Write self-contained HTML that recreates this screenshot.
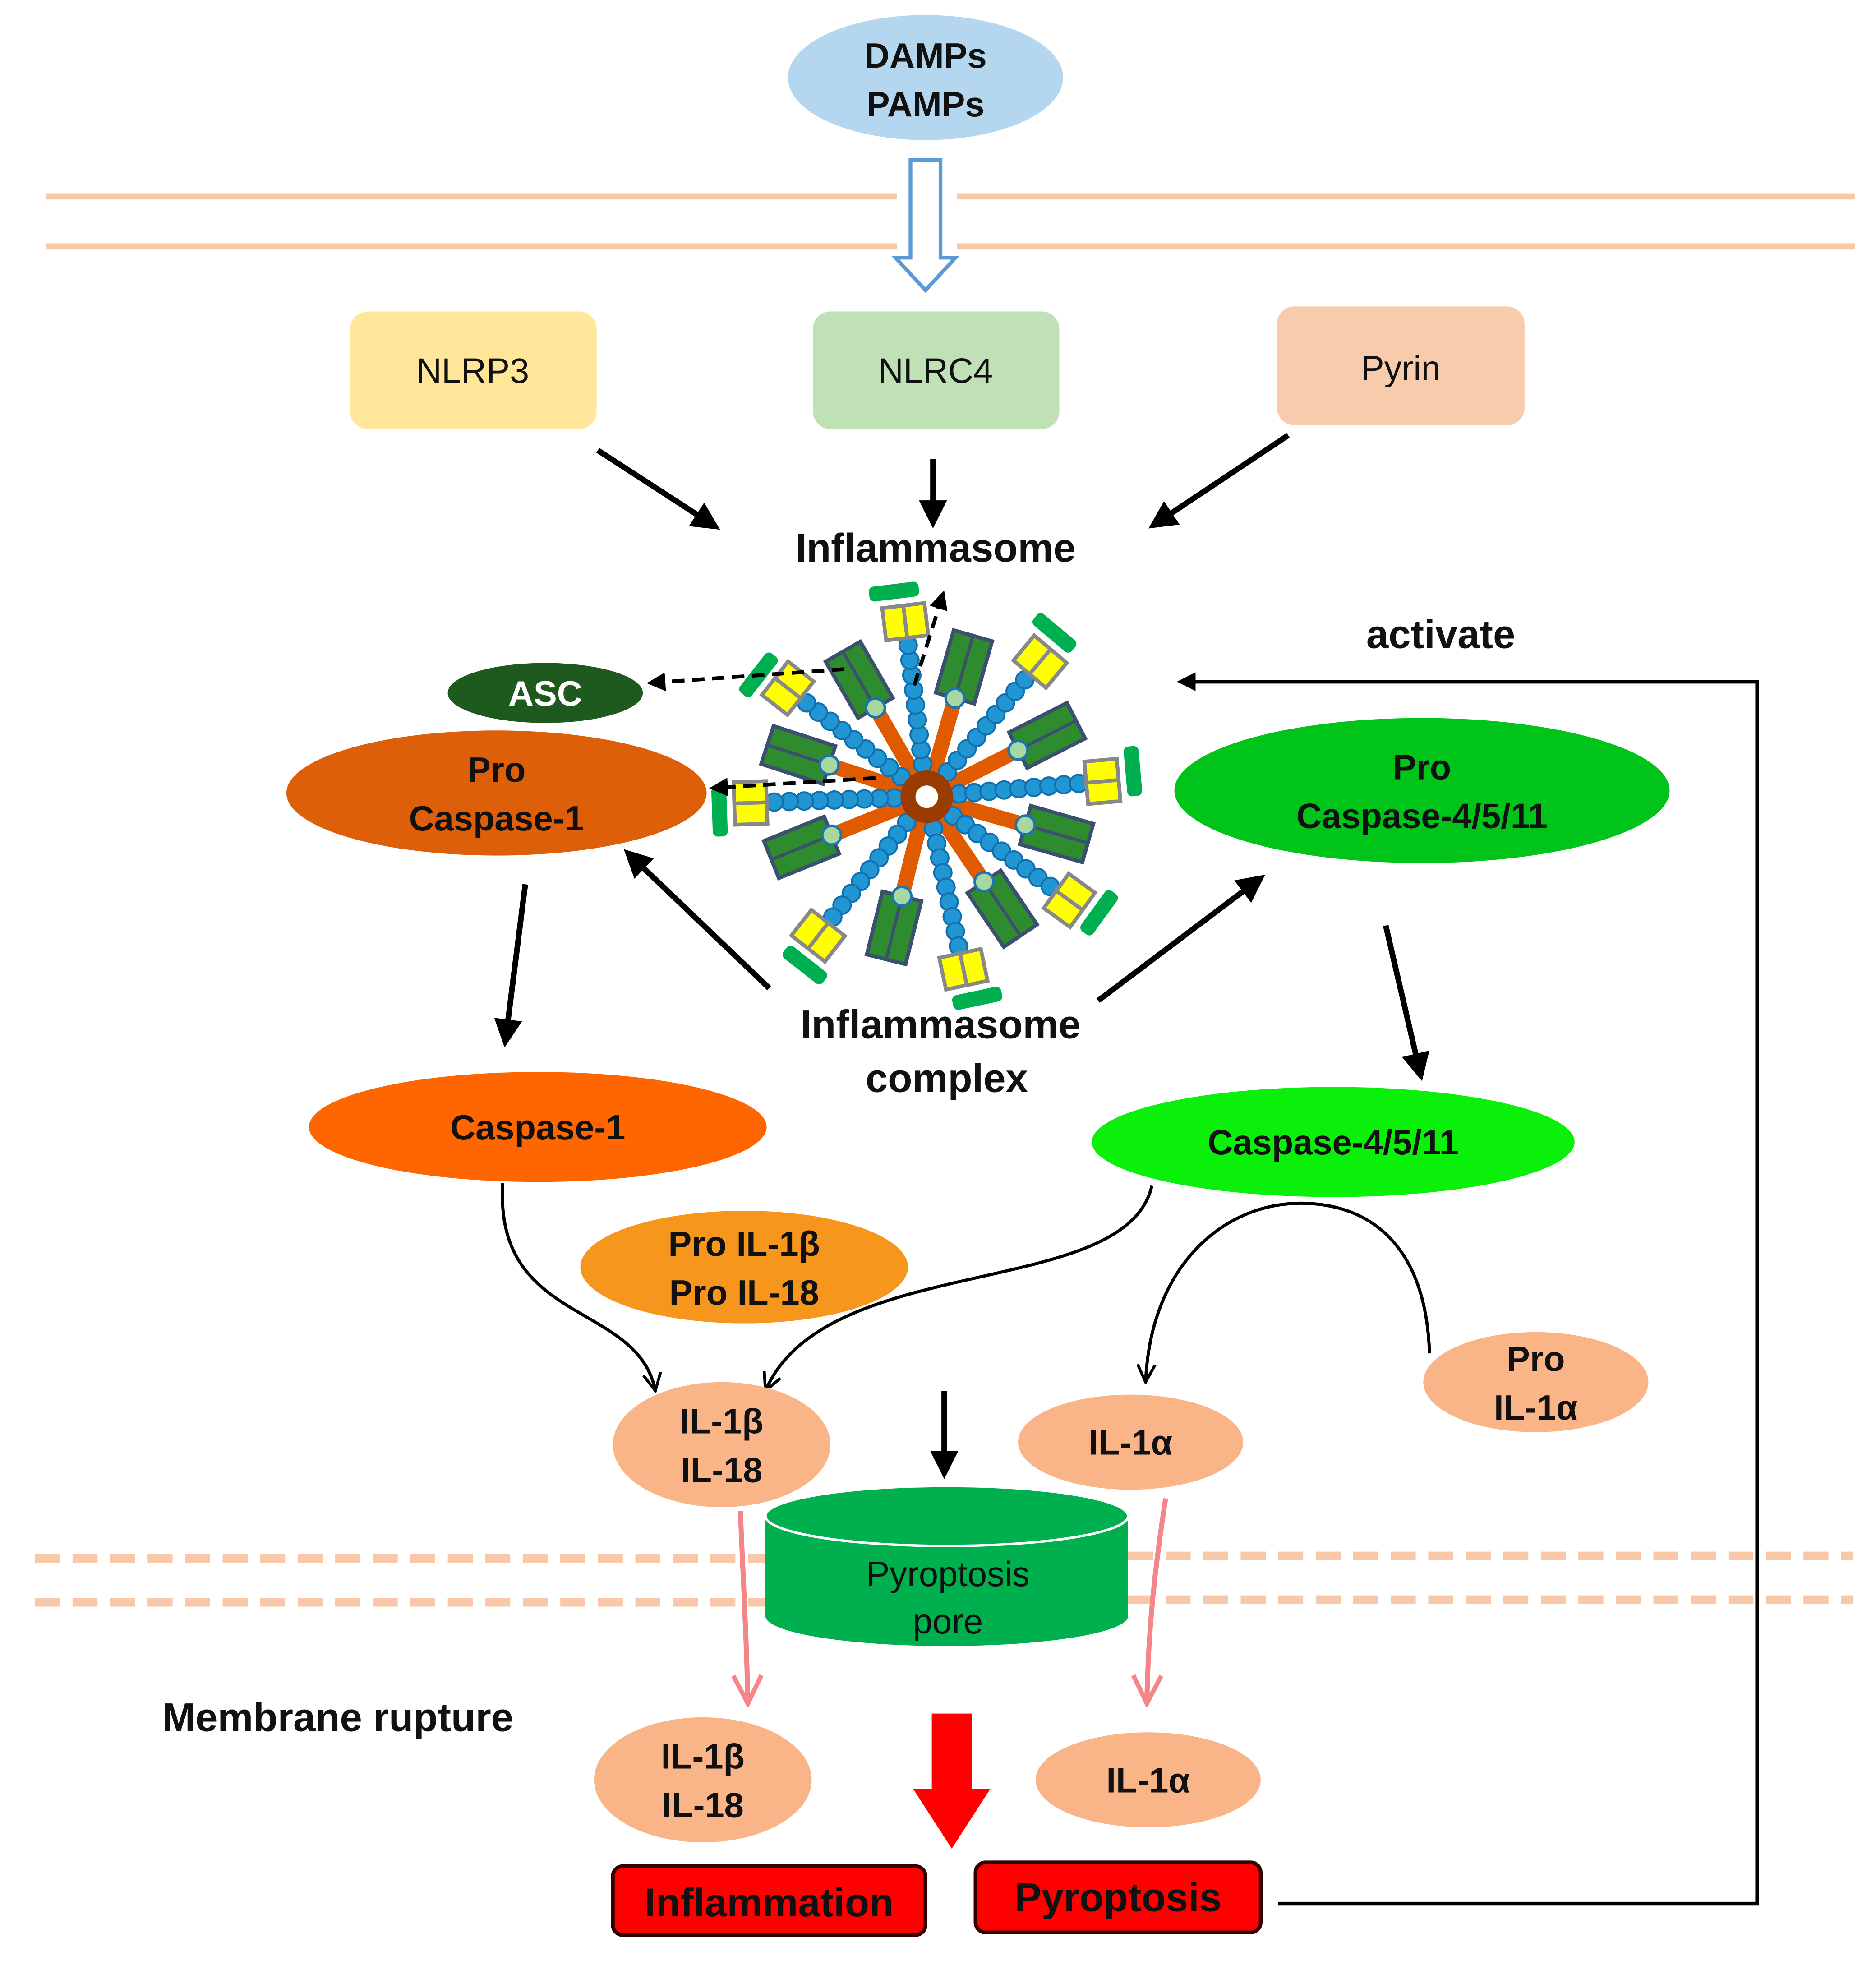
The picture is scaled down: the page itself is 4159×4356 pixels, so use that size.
<!DOCTYPE html>
<html><head><meta charset="utf-8"><style>
html,body{margin:0;padding:0;background:#fff}
svg{display:block}
text{font-family:"Liberation Sans",Arial,Helvetica,sans-serif;font-weight:bold;fill:#111}
.n{font-weight:normal}
</style></head><body>
<svg width="4159" height="4356" viewBox="0 0 1500 1571" xmlns="http://www.w3.org/2000/svg">
<defs>
<marker id="ah" viewBox="0 0 10 10" refX="8" refY="5" markerWidth="5" markerHeight="5" orient="auto"><path d="M0,0 L10,5 L0,10 z" fill="#000"/></marker>
<marker id="ao" viewBox="0 0 10 10" refX="9" refY="5" markerWidth="7" markerHeight="7" orient="auto"><path d="M1,1 L9,5 L1,9" fill="none" stroke="#000" stroke-width="1.3"/></marker>
<marker id="ap" viewBox="0 0 10 10" refX="9" refY="5" markerWidth="7" markerHeight="7" orient="auto"><path d="M1,1 L9,5 L1,9" fill="none" stroke="#f4868a" stroke-width="1.3"/></marker>
<g id="sp">
<rect x="12" y="-6" width="70" height="12" fill="#e05a00"/>
<rect x="82" y="-16" width="52" height="32" fill="#2e8b2e" stroke="#3b5070" stroke-width="3"/>
<line x1="82" y1="0" x2="134" y2="0" stroke="#3b5070" stroke-width="2.5"/>
<circle cx="82" cy="0" r="7.5" fill="#a8d8a0" stroke="#1a75b0" stroke-width="2"/>
</g>
<g id="bd" fill="#2196d3" stroke="#1070b0" stroke-width="1.5">
<circle cx="26" cy="0" r="7"/><circle cx="38" cy="0" r="7"/><circle cx="50" cy="0" r="7"/><circle cx="62" cy="0" r="7"/><circle cx="74" cy="0" r="7"/><circle cx="86" cy="0" r="7"/><circle cx="98" cy="0" r="7"/><circle cx="110" cy="0" r="7"/><circle cx="122" cy="0" r="7"/>
<rect x="128" y="-17" width="26" height="34" fill="#ffff00" stroke="#888" stroke-width="3"/>
<line x1="128" y1="0" x2="154" y2="0" stroke="#888" stroke-width="3"/>
<rect x="160" y="-26" width="12" height="40" rx="4" fill="#00b050" stroke="none"/>
</g>
</defs>

<line x1="37" y1="157" x2="717" y2="157" stroke="#f8c8a8" stroke-width="5"/>
<line x1="765" y1="157" x2="1483" y2="157" stroke="#f8c8a8" stroke-width="5"/>
<line x1="37" y1="197" x2="717" y2="197" stroke="#f8c8a8" stroke-width="5"/>
<line x1="765" y1="197" x2="1483" y2="197" stroke="#f8c8a8" stroke-width="5"/>
<path d="M728,128 L752,128 L752,206 L764,206 L740,232 L716,206 L728,206 z" fill="#fff" stroke="#5b9bd5" stroke-width="3"/>

<ellipse cx="740" cy="62" rx="110" ry="50" fill="#b4d7ef"/>
<text x="740" y="54" font-size="28" text-anchor="middle">DAMPs</text>
<text x="740" y="93" font-size="28" text-anchor="middle">PAMPs</text>

<rect x="280" y="249" width="197" height="94" rx="14" fill="#ffe699"/>
<text x="378" y="306" font-size="28" text-anchor="middle" class="n">NLRP3</text>
<rect x="650" y="249" width="197" height="94" rx="14" fill="#c0e0b5"/>
<text x="748" y="306" font-size="28" text-anchor="middle" class="n">NLRC4</text>
<rect x="1021" y="245" width="198" height="95" rx="14" fill="#f8cbad"/>
<text x="1120" y="304" font-size="28" text-anchor="middle" class="n">Pyrin</text>

<g stroke="#000" stroke-width="4.5" fill="none" marker-end="url(#ah)">
<line x1="478" y1="360" x2="572" y2="421"/>
<line x1="746" y1="367" x2="746" y2="418"/>
<line x1="1030" y1="348" x2="922" y2="420"/>
<line x1="420" y1="707" x2="404" y2="833"/>
<line x1="615" y1="790" x2="502" y2="682"/>
<line x1="878" y1="800" x2="1008" y2="702"/>
<line x1="1108" y1="740" x2="1136" y2="860"/>
<line x1="755" y1="1112" x2="755" y2="1178"/>
</g>

<text x="748" y="449" font-size="32" text-anchor="middle">Inflammasome</text>
<text x="1152" y="518" font-size="32" text-anchor="middle">activate</text>

<g transform="translate(741,637)">
<use href="#sp" transform="rotate(-74)"/><use href="#sp" transform="rotate(-27)"/><use href="#sp" transform="rotate(16)"/><use href="#sp" transform="rotate(56)"/><use href="#sp" transform="rotate(104)"/><use href="#sp" transform="rotate(158)"/><use href="#sp" transform="rotate(198)"/><use href="#sp" transform="rotate(240)"/>
<use href="#bd" transform="rotate(-97)"/><use href="#bd" transform="rotate(-50)"/><use href="#bd" transform="rotate(-5)"/><use href="#bd" transform="rotate(36)"/><use href="#bd" transform="rotate(78)"/><use href="#bd" transform="rotate(128)"/><use href="#bd" transform="rotate(178)"/><use href="#bd" transform="rotate(218)"/>
<circle cx="0" cy="0" r="15" fill="none" stroke="#9a3c00" stroke-width="12"/>
</g>

<g stroke="#000" stroke-width="3" stroke-dasharray="10,6" fill="none" marker-end="url(#ah)">
<line x1="675" y1="535" x2="520" y2="546"/>
<line x1="700" y1="622" x2="570" y2="630"/>
<line x1="731" y1="548" x2="754" y2="475"/>
</g>

<ellipse cx="436" cy="554" rx="78" ry="24" fill="#1e5a1e"/>
<text x="436" y="564" font-size="28" text-anchor="middle" style="fill:#fff">ASC</text>
<ellipse cx="397" cy="634" rx="168" ry="50" fill="#dd5f0a"/>
<text x="397" y="625" font-size="28" text-anchor="middle">Pro</text>
<text x="397" y="664" font-size="28" text-anchor="middle">Caspase-1</text>
<ellipse cx="1137" cy="632" rx="198" ry="58" fill="#00c41a"/>
<text x="1137" y="623" font-size="28" text-anchor="middle">Pro</text>
<text x="1137" y="662" font-size="28" text-anchor="middle">Caspase-4/5/11</text>

<polyline points="1022,1522 1405,1522 1405,545 944,545" fill="none" stroke="#000" stroke-width="3" marker-end="url(#ah)"/>

<text x="752" y="830" font-size="32" text-anchor="middle">Inflammasome</text>
<text x="757" y="873" font-size="32" text-anchor="middle">complex</text>

<ellipse cx="430" cy="901" rx="183" ry="44" fill="#ff6600"/>
<text x="430" y="911" font-size="28" text-anchor="middle">Caspase-1</text>
<ellipse cx="1066" cy="913" rx="193" ry="44" fill="#0bf00b"/>
<text x="1066" y="923" font-size="28" text-anchor="middle">Caspase-4/5/11</text>
<ellipse cx="595" cy="1013" rx="131" ry="45" fill="#f7961d"/>
<text x="595" y="1004" font-size="28" text-anchor="middle">Pro IL-1β</text>
<text x="595" y="1043" font-size="28" text-anchor="middle">Pro IL-18</text>

<g fill="none" stroke="#000" stroke-width="2.5" marker-end="url(#ao)">
<path d="M402,946 C395,1060 510,1040 524,1112"/>
<path d="M921,948 C900,1040 660,1000 612,1112"/>
<path d="M1143,1082 C1140,990 1090,962 1040,962 C980,962 920,1010 916,1105"/>
</g>

<ellipse cx="577" cy="1155" rx="87" ry="50" fill="#f9b487"/>
<text x="577" y="1146" font-size="28" text-anchor="middle">IL-1β</text>
<text x="577" y="1185" font-size="28" text-anchor="middle">IL-18</text>
<ellipse cx="904" cy="1153" rx="90" ry="38" fill="#f9b487"/>
<text x="904" y="1163" font-size="28" text-anchor="middle">IL-1α</text>
<ellipse cx="1228" cy="1105" rx="90" ry="40" fill="#f9b487"/>
<text x="1228" y="1096" font-size="28" text-anchor="middle">Pro</text>
<text x="1228" y="1135" font-size="28" text-anchor="middle">IL-1α</text>

<g stroke="#f8c8a8" stroke-width="7" stroke-dasharray="20,10">
<line x1="28" y1="1246" x2="612" y2="1246"/><line x1="902" y1="1244" x2="1482" y2="1244"/>
<line x1="28" y1="1281" x2="612" y2="1281"/><line x1="902" y1="1279" x2="1482" y2="1279"/>
</g>

<path d="M612,1212 L612,1292 A145,24 0 0 0 902,1292 L902,1212 z" fill="#00b04f"/>
<ellipse cx="757" cy="1212" rx="145" ry="24" fill="#00b04f" stroke="#fff" stroke-width="2"/>
<text x="758" y="1268" font-size="28" text-anchor="middle" class="n">Pyroptosis</text>
<text x="758" y="1306" font-size="28" text-anchor="middle" class="n">pore</text>

<g fill="none" stroke="#f4868a" stroke-width="4" marker-end="url(#ap)">
<path d="M592,1208 C594,1260 597,1310 598,1362"/>
<path d="M932,1198 C924,1250 918,1300 917,1362"/>
</g>

<text x="270" y="1384" font-size="32" text-anchor="middle">Membrane rupture</text>

<ellipse cx="562" cy="1423" rx="87" ry="50" fill="#f9b487"/>
<text x="562" y="1414" font-size="28" text-anchor="middle">IL-1β</text>
<text x="562" y="1453" font-size="28" text-anchor="middle">IL-18</text>
<ellipse cx="918" cy="1423" rx="90" ry="38" fill="#f9b487"/>
<text x="918" y="1433" font-size="28" text-anchor="middle">IL-1α</text>

<path d="M745,1370 L777,1370 L777,1430 L792,1430 L761,1478 L730,1430 L745,1430 z" fill="#ff0000"/>

<rect x="490" y="1492" width="250" height="55" rx="8" fill="#ff0000" stroke="#300" stroke-width="3"/>
<text x="615" y="1532" font-size="32" text-anchor="middle">Inflammation</text>
<rect x="780" y="1489" width="228" height="56" rx="8" fill="#ff0000" stroke="#300" stroke-width="3"/>
<text x="894" y="1528" font-size="32" text-anchor="middle">Pyroptosis</text>
</svg>
</body></html>
